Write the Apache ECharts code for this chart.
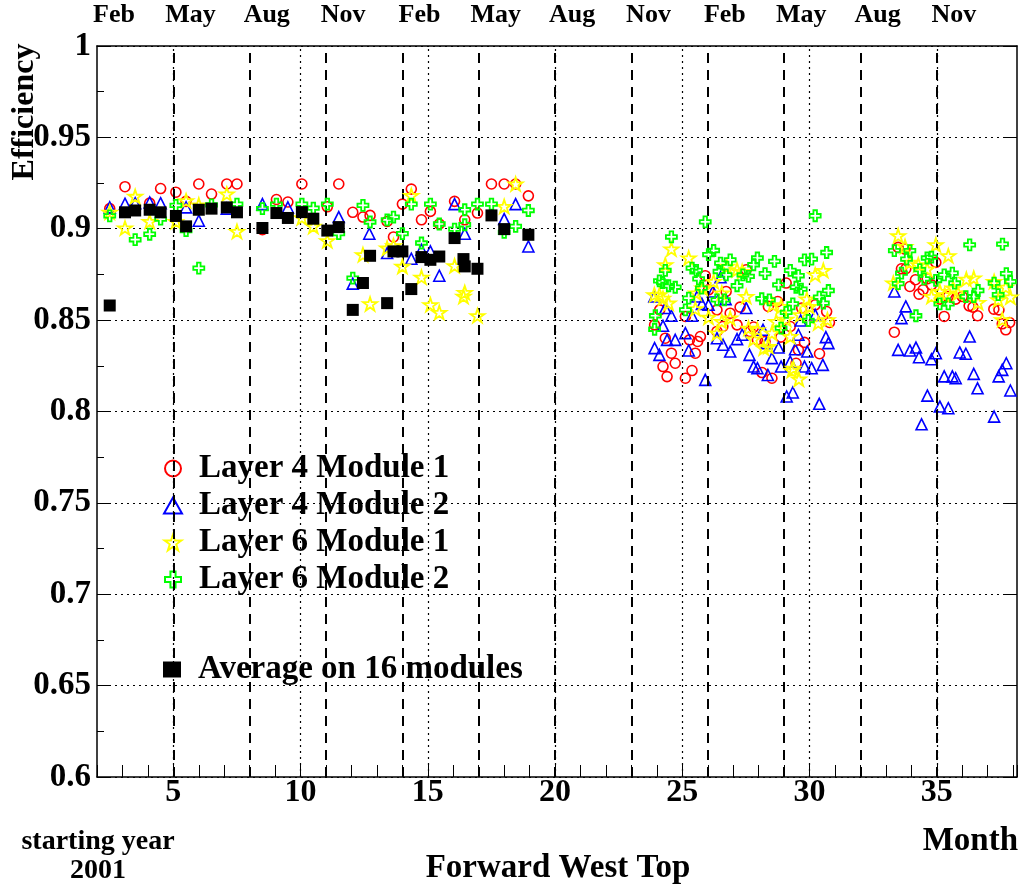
<!DOCTYPE html>
<html>
<head>
<meta charset="utf-8">
<script src="https://cdn.jsdelivr.net/npm/echarts@6/dist/echarts.min.js"></script>
<style>
  html, body { margin: 0; padding: 0; background: #fff; }
  #chart { width: 1022px; height: 885px; }
</style>
</head>
<body>
<div id="chart"></div>
<script>
// Month axis decorations
const monthNames = ['Feb', 'May', 'Aug', 'Nov', 'Feb', 'May', 'Aug', 'Nov', 'Feb', 'May', 'Aug', 'Nov'];
const monthStarts = [2, 5, 8, 11, 14, 17, 20, 23, 26, 29, 32, 35];
const quarterLines = [5, 8, 11, 14, 17, 20, 23, 26, 29, 32, 35];
const majorGridX = [5, 10, 15, 20, 25, 30, 35];

// Efficiency per module: [month, efficiency]
const layer4Module1 = [
  [2.5, 0.911], [3.1, 0.923], [4.07, 0.914], [4.5, 0.922], [5.1, 0.920], [5.5, 0.915], [6.0, 0.9245],
  [6.5, 0.919], [7.1, 0.9245], [7.5, 0.9245], [8.5, 0.8995], [9.05, 0.916], [9.5, 0.9146], [10.05, 0.9245],
  [11.05, 0.912], [11.5, 0.9245], [12.05, 0.909], [12.45, 0.9064], [12.73, 0.9073], [13.4, 0.904],
  [13.65, 0.8955], [14.0, 0.9135], [14.35, 0.9217], [14.75, 0.9049], [15.1, 0.9095], [15.45, 0.9026],
  [16.05, 0.915], [16.45, 0.9049], [16.95, 0.9086], [17.5, 0.9245], [18.0, 0.9245], [18.45, 0.9245],
  [18.95, 0.918],
  [24.11, 0.8556], [23.91, 0.8474], [24.33, 0.8401], [24.57, 0.8319], [24.72, 0.8264], [24.24, 0.8246],
  [24.4, 0.8191], [25.9, 0.8743], [26.03, 0.8666], [26.36, 0.8556], [26.72, 0.8657], [26.88, 0.8538],
  [26.59, 0.8465], [26.36, 0.8438], [27.15, 0.8474], [27.27, 0.8571], [25.12, 0.852], [25.28, 0.8392],
  [25.71, 0.841], [25.6, 0.8383], [25.51, 0.8319], [25.38, 0.8224], [25.12, 0.8182], [27.51, 0.8776],
  [29.08, 0.8703], [28.75, 0.8602], [29.69, 0.8566], [30.22, 0.8584], [30.67, 0.8547], [28.38, 0.8575],
  [30.78, 0.8487], [29.24, 0.8465], [27.8, 0.8462], [27.66, 0.8438], [28.87, 0.8407], [27.95, 0.8392],
  [28.25, 0.8383], [29.8, 0.8378], [29.56, 0.8337], [30.39, 0.8316], [29.47, 0.8264], [28.13, 0.8213],
  [28.52, 0.8182],
  [33.48, 0.8898], [33.75, 0.8889], [33.61, 0.8781], [33.78, 0.8781], [34.96, 0.8816], [34.16, 0.8721],
  [33.94, 0.8684], [34.46, 0.8666], [34.3, 0.8642], [34.62, 0.8726], [34.79, 0.8693], [35.12, 0.8615],
  [35.45, 0.8629], [35.74, 0.8615], [36.0, 0.8629], [36.27, 0.8578], [36.42, 0.8571], [36.6, 0.8524],
  [35.29, 0.852], [33.33, 0.8434], [37.24, 0.856], [37.44, 0.8556], [37.57, 0.848], [37.86, 0.8487],
  [37.71, 0.8447]
];

const layer4Module2 = [
  [2.5, 0.9117], [3.1, 0.9137], [3.5, 0.914], [4.07, 0.9144], [4.5, 0.914], [5.5, 0.9117], [6.0, 0.9044],
  [7.1, 0.911], [8.5, 0.9135], [9.5, 0.9117], [11.5, 0.9064], [12.05, 0.870], [12.7, 0.8973],
  [13.4, 0.8867], [14.35, 0.8836], [14.75, 0.8885], [15.1, 0.8876], [15.45, 0.8743], [16.05, 0.9135],
  [16.45, 0.8973], [18.0, 0.9053], [18.45, 0.9135], [18.95, 0.8903],
  [23.9, 0.8629], [24.33, 0.8566], [24.57, 0.8524], [24.24, 0.8469], [24.4, 0.8392], [24.72, 0.8392],
  [23.91, 0.8347], [24.1, 0.831], [25.58, 0.8629], [25.38, 0.8524], [25.77, 0.8589], [26.03, 0.8584],
  [26.5, 0.8735], [26.2, 0.8657], [26.7, 0.8615], [26.36, 0.8401], [26.6, 0.8365], [26.88, 0.8328],
  [27.15, 0.8396], [25.12, 0.8429], [25.25, 0.8334], [25.9, 0.8173], [27.51, 0.8566], [30.22, 0.8529],
  [29.65, 0.8498], [28.17, 0.8447], [29.56, 0.842], [30.64, 0.8407], [30.74, 0.8374], [27.35, 0.842],
  [28.3, 0.8374], [28.78, 0.835], [29.43, 0.8341], [29.91, 0.8328], [27.64, 0.831], [28.52, 0.8292],
  [29.24, 0.8273], [30.52, 0.8255], [29.8, 0.8246], [30.08, 0.8237], [28.88, 0.8246], [27.8, 0.8246],
  [27.95, 0.8237], [28.36, 0.820], [29.34, 0.8104], [29.1, 0.8082], [30.38, 0.8042],
  [33.33, 0.8657], [33.78, 0.8575], [33.61, 0.8511], [33.48, 0.8337], [33.94, 0.8334], [34.18, 0.835],
  [34.3, 0.8297], [34.79, 0.8286], [34.96, 0.8319], [34.63, 0.8087], [35.12, 0.8027], [35.45, 0.8018],
  [35.29, 0.8192], [35.61, 0.8192], [35.74, 0.8182], [35.9, 0.8323], [36.14, 0.8316], [36.29, 0.841],
  [36.45, 0.8206], [36.6, 0.8127], [37.25, 0.7972], [37.43, 0.8192], [37.57, 0.8228], [37.73, 0.8264],
  [37.89, 0.8115], [34.4, 0.793]
];

const layer6Module1 = [
  [2.5, 0.909], [3.1, 0.9004], [3.5, 0.9177], [4.07, 0.904], [5.1, 0.904], [5.5, 0.9153], [6.0, 0.913],
  [7.1, 0.919], [7.5, 0.8985], [10.05, 0.906], [10.5, 0.9013], [11.05, 0.8934], [12.45, 0.8858],
  [12.73, 0.8589], [13.4, 0.8894], [13.65, 0.8907], [14.0, 0.8794], [14.35, 0.9182], [14.75, 0.8735],
  [15.1, 0.8584], [15.45, 0.8542], [16.05, 0.8797], [16.45, 0.8651], [16.4, 0.863], [16.95, 0.8524],
  [18.0, 0.9122], [18.45, 0.9245],
  [24.57, 0.8889], [24.33, 0.8803], [23.9, 0.8639], [24.1, 0.8639], [24.24, 0.862], [24.46, 0.8593],
  [25.25, 0.884], [25.55, 0.8648], [25.51, 0.8562], [25.8, 0.8675], [26.23, 0.8711], [26.55, 0.8648],
  [26.75, 0.8794], [26.88, 0.8511], [26.55, 0.8492], [26.03, 0.8516], [26.36, 0.8429], [27.15, 0.8776],
  [27.35, 0.8766], [30.22, 0.8748], [30.54, 0.8772], [27.51, 0.8629], [29.89, 0.8615], [29.98, 0.8575],
  [28.88, 0.8575], [28.55, 0.8584], [29.63, 0.8529], [30.34, 0.8484], [30.7, 0.8502], [28.69, 0.8492],
  [29.08, 0.8505], [27.6, 0.8456], [27.95, 0.8447], [28.52, 0.8429], [29.24, 0.841], [27.8, 0.8396],
  [28.2, 0.8347], [28.38, 0.8356], [29.36, 0.8237], [29.3, 0.8224], [29.58, 0.8177],
  [33.48, 0.8962], [33.75, 0.8903], [33.94, 0.8816], [34.27, 0.8803], [34.62, 0.8779], [34.96, 0.8912],
  [35.45, 0.8852], [33.29, 0.8703], [34.79, 0.8629], [35.12, 0.8657], [35.31, 0.8639], [35.64, 0.8675],
  [35.83, 0.8648], [36.16, 0.8724], [36.45, 0.873], [36.62, 0.8596], [37.25, 0.8711], [37.71, 0.868],
  [37.89, 0.8626], [37.41, 0.8611], [37.57, 0.8502]
];

const layer6Module2 = [
  [2.5, 0.907], [3.5, 0.894], [4.07, 0.897], [4.5, 0.9053], [5.1, 0.9128], [5.5, 0.899], [6.0, 0.8785],
  [6.5, 0.9131], [7.5, 0.9135], [8.5, 0.911], [9.05, 0.9135], [10.05, 0.9135], [10.5, 0.9113],
  [11.05, 0.9135], [11.5, 0.8973], [12.05, 0.873], [12.45, 0.9128], [12.73, 0.9037], [13.4, 0.9049],
  [13.65, 0.9064], [14.0, 0.8973], [14.35, 0.9135], [14.75, 0.8922], [15.1, 0.9135], [15.45, 0.9026],
  [16.05, 0.8998], [16.45, 0.9104], [16.45, 0.9022], [16.95, 0.9135], [17.5, 0.9135], [18.0, 0.898],
  [18.45, 0.9013], [18.95, 0.910],
  [25.9, 0.9038], [24.57, 0.8955], [24.33, 0.8772], [24.1, 0.8715], [24.22, 0.8706], [24.46, 0.8688],
  [24.72, 0.868], [23.94, 0.8524], [23.91, 0.845], [25.25, 0.862], [25.12, 0.8556], [25.38, 0.8785],
  [25.55, 0.8772], [25.64, 0.8726], [25.75, 0.8675], [26.03, 0.8858], [26.23, 0.8881], [26.5, 0.8812],
  [26.44, 0.8766], [26.36, 0.8611], [26.65, 0.8611], [26.72, 0.8748], [26.88, 0.883], [27.15, 0.8688],
  [30.22, 0.9071], [30.67, 0.887], [27.95, 0.884], [27.8, 0.8803], [28.62, 0.8821], [29.8, 0.883],
  [30.08, 0.8834], [27.38, 0.8748], [27.6, 0.8739], [28.25, 0.8754], [29.24, 0.8772], [29.56, 0.8743],
  [28.78, 0.8693], [29.47, 0.868], [29.67, 0.867], [30.74, 0.8662], [28.12, 0.8617], [28.42, 0.8611],
  [30.38, 0.8626], [30.54, 0.8593], [29.34, 0.8589], [29.08, 0.8542], [29.95, 0.8498], [28.88, 0.8456],
  [33.33, 0.888], [33.94, 0.888], [33.81, 0.8834], [33.61, 0.8757], [34.33, 0.8776], [34.62, 0.884],
  [34.79, 0.8845], [36.29, 0.8912], [37.58, 0.8916], [33.48, 0.870], [34.5, 0.8726], [34.96, 0.8717],
  [35.29, 0.8748], [35.61, 0.8757], [35.12, 0.8589], [35.45, 0.8589], [35.7, 0.8703], [36.62, 0.8662],
  [36.45, 0.8629], [36.14, 0.8629], [34.18, 0.8524], [37.25, 0.8703], [37.41, 0.8639], [37.73, 0.8754],
  [37.89, 0.8711]
];

const averageAll = [
  [2.5, 0.858], [3.1, 0.909], [3.5, 0.910], [4.07, 0.9104], [4.5, 0.909], [5.1, 0.907], [5.5, 0.9013],
  [6.0, 0.9104], [6.5, 0.911], [7.1, 0.9117], [7.5, 0.909], [8.5, 0.9004], [9.05, 0.9086], [9.5, 0.9059],
  [10.05, 0.9091], [10.5, 0.9055], [11.05, 0.899], [11.5, 0.9009], [12.05, 0.8556], [12.45, 0.8703],
  [12.73, 0.8852], [13.4, 0.8593], [13.65, 0.8876], [14.0, 0.8876], [14.35, 0.867], [14.75, 0.8845],
  [15.1, 0.883], [15.45, 0.8848], [16.05, 0.8949], [16.4, 0.8834], [16.45, 0.8794], [16.95, 0.8781],
  [17.5, 0.9073], [18.0, 0.8998], [18.95, 0.8967]
];

const FONT = "'Liberation Serif', 'DejaVu Serif', serif";
const STAR = 'path://M50,2 L61,36 L97,36 L68,57 L79,92 L50,71 L21,92 L32,57 L3,36 L39,36 Z';
const OPEN_CROSS = 'path://M34,0 H66 V34 H100 V66 H66 V100 H34 V66 H0 V34 H34 Z';

const chart = echarts.init(document.getElementById('chart'), null, { renderer: 'canvas' });

function markerSeries(name, data, symbol, size, color, filled, width, z) {
  return {
    name, type: 'scatter', data, symbol, symbolSize: size, symbolKeepAspect: true,
    z, silent: true, animation: false,
    itemStyle: filled
      ? { color: color, borderWidth: 0, opacity: 1 }
      : { color: 'rgba(255,255,255,0)', borderColor: color, borderWidth: width, opacity: 1 }
  };
}

const legendText = { fontFamily: FONT, fontWeight: 'bold', fontSize: 33, color: '#000', padding: [0, 0, 0, 12] };

const option = {
  backgroundColor: '#fff',
  animation: false,
  grid: { left: 97, right: 5, top: 46, bottom: 108 },
  xAxis: [
    {
      type: 'value', min: 2, max: 38.15, interval: 1,
      axisLine: { show: true, onZero: false, lineStyle: { color: '#000', width: 1.5 } },
      axisTick: { show: true, inside: true, length: 12, lineStyle: { color: '#000', width: 1 } },
      axisLabel: {
        margin: 0, fontFamily: FONT, fontWeight: 'bold', fontSize: 32, color: '#000',
        formatter: v => (Math.abs(v % 5) < 1e-9 ? String(v) : '')
      },
      splitLine: { show: false }
    },
    {
      type: 'value', position: 'top', min: 2, max: 38.15,
      axisLine: { show: true, onZero: false, lineStyle: { color: '#000', width: 1.5 } },
      axisTick: { show: false }, axisLabel: { show: false }, splitLine: { show: false }
    }
  ],
  yAxis: [
    {
      type: 'value', min: 0.6, max: 1.0, interval: 0.05,
      axisLine: { show: true, onZero: false, lineStyle: { color: '#000', width: 1.5 } },
      axisTick: { show: true, inside: true, length: 14, lineStyle: { color: '#000', width: 1 } },
      minorTick: { show: true, splitNumber: 2, length: 7, lineStyle: { color: '#000', width: 1 } },
      axisLabel: { margin: 6, fontFamily: FONT, fontWeight: 'bold', fontSize: 33, color: '#000' },
      splitLine: { show: true, lineStyle: { color: '#000', width: 1.2, type: [2, 4] } }
    },
    {
      type: 'value', position: 'right', min: 0.6, max: 1.0, interval: 0.05,
      axisLine: { show: true, onZero: false, lineStyle: { color: '#000', width: 1.5 } },
      axisTick: { show: true, inside: true, length: 14, lineStyle: { color: '#000', width: 1 } },
      axisLabel: { show: false }, splitLine: { show: false }
    }
  ],
  legend: [
    {
      data: ['Layer 4 Module 1', 'Layer 4 Module 2', 'Layer 6 Module 1', 'Layer 6 Module 2'],
      orient: 'vertical', left: 158, top: 447, itemWidth: 18, itemHeight: 16, itemGap: 4,
      selectedMode: false, textStyle: legendText
    },
    {
      data: ['Average on 16 modules'],
      orient: 'vertical', left: 158, top: 648, itemWidth: 18, itemHeight: 16,
      selectedMode: false, textStyle: legendText
    }
  ],
  series: [
    {
      name: 'quarters', type: 'scatter', data: [], z: 1, silent: true,
      markLine: {
        silent: true, symbol: 'none', animation: false, label: { show: false },
        data: majorGridX.map(v => ({ xAxis: v, lineStyle: { color: '#000', width: 1.2, type: [2, 4] } }))
          .concat(quarterLines.map(v => ({ xAxis: v, lineStyle: { color: '#000', width: 2, type: [10, 7] } })))
      }
    },
    markerSeries('Layer 4 Module 1', layer4Module1, 'circle', 10, '#ff0000', false, 1.6, 3),
    markerSeries('Layer 4 Module 2', layer4Module2, 'triangle', 11, '#0000ff', false, 1.6, 4),
    markerSeries('Layer 6 Module 1', layer6Module1, STAR, 14, '#ffff00', false, 1.8, 5),
    markerSeries('Layer 6 Module 2', layer6Module2, OPEN_CROSS, 11, '#00ff00', false, 1.8, 6),
    markerSeries('Average on 16 modules', averageAll, 'rect', 12, '#000000', true, 0, 7)
  ]
};

chart.setOption(option);

// Titles and month names along the top edge
const textStyle = (size) => ({ fontFamily: FONT, fontWeight: 'bold', fontSize: size, fill: '#000' });
const graphics = monthNames.map((m, i) => {
  const px = chart.convertToPixel({ xAxisIndex: 0 }, monthStarts[i] + 0.67);
  return {
    type: 'text', x: px, y: 15,
    style: Object.assign(textStyle(26), { text: m, align: 'center', verticalAlign: 'middle' })
  };
});
graphics.push(
  { type: 'text', x: 25, y: 112, rotation: Math.PI / 2,
    style: Object.assign(textStyle(32), { text: 'Efficiency', align: 'center', verticalAlign: 'middle' }) },
  { type: 'text', x: 1018, y: 841,
    style: Object.assign(textStyle(33), { text: 'Month', align: 'right', verticalAlign: 'middle' }) },
  { type: 'text', x: 558, y: 868,
    style: Object.assign(textStyle(33), { text: 'Forward West Top', align: 'center', verticalAlign: 'middle' }) },
  { type: 'text', x: 98, y: 842,
    style: Object.assign(textStyle(28), { text: 'starting year', align: 'center', verticalAlign: 'middle' }) },
  { type: 'text', x: 98, y: 871,
    style: Object.assign(textStyle(28), { text: '2001', align: 'center', verticalAlign: 'middle' }) }
);
chart.setOption({ graphic: graphics });
</script>
</body>
</html>
